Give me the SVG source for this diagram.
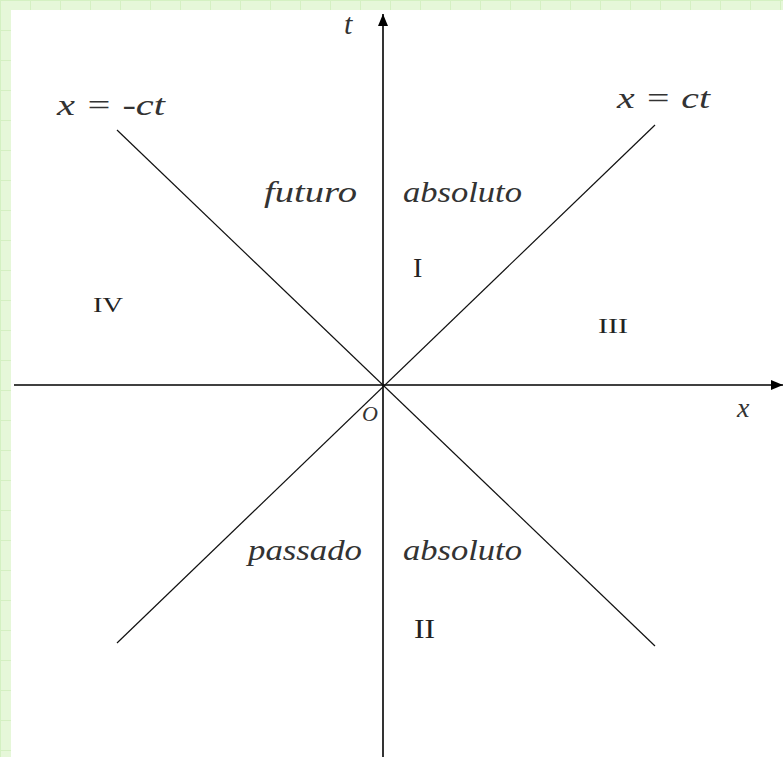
<svg xmlns="http://www.w3.org/2000/svg" width="783" height="757" viewBox="0 0 783 757">
<defs>
<pattern id="grid" width="30" height="30" patternUnits="userSpaceOnUse">
<rect width="30" height="30" fill="#e6f7d9"/>
<path d="M0 0.5H30M0.5 0V30" stroke="#d4f0c2" stroke-width="1"/>
</pattern>
<marker id="arr" viewBox="0 0 12 10" refX="12" refY="5" markerWidth="13" markerHeight="10" markerUnits="userSpaceOnUse" orient="auto">
<path d="M0 0L12 5L0 10Z" fill="#000"/>
</marker>
<style>
.it{font-family:"Liberation Serif",serif;font-style:italic;fill:#333}
.rm{font-family:"Liberation Serif",serif;fill:#222}
.ax{stroke:#000;stroke-width:1.6;fill:none}
.ln{stroke:#111;stroke-width:1.2;fill:none}
</style>
</defs>
<rect width="783" height="757" fill="url(#grid)"/>
<rect x="11" y="10" width="772" height="747" fill="#fff"/>
<g id="connectors">
<line class="ax" x1="383" y1="757" x2="383" y2="14" marker-end="url(#arr)"/>
<line class="ax" x1="14" y1="385" x2="783" y2="385" marker-end="url(#arr)"/>
<line class="ln" x1="117" y1="130" x2="655" y2="646"/>
<line class="ln" x1="655" y1="125" x2="117" y2="643"/>
</g>
<g id="labels">
<text class="it" x="344" y="34" font-size="30">t</text>
<text class="it" x="57" y="115" font-size="30" textLength="108" lengthAdjust="spacingAndGlyphs">x = -ct</text>
<text class="it" x="617" y="108" font-size="30" textLength="93" lengthAdjust="spacingAndGlyphs">x = ct</text>
<text class="it" x="264" y="202" font-size="30" textLength="93" lengthAdjust="spacingAndGlyphs">futuro</text>
<text class="it" x="403" y="202" font-size="30" textLength="119" lengthAdjust="spacingAndGlyphs">absoluto</text>
<text class="rm" x="413" y="277" font-size="28">I</text>
<text class="rm" x="93" y="312" font-size="21" textLength="30" lengthAdjust="spacingAndGlyphs">IV</text>
<text class="rm" x="598" y="333" font-size="21" textLength="30" lengthAdjust="spacingAndGlyphs">III</text>
<text class="it" x="737" y="417" font-size="28">x</text>
<text class="it" x="362" y="421" font-size="22">O</text>
<text class="it" x="248" y="560" font-size="30" textLength="114" lengthAdjust="spacingAndGlyphs">passado</text>
<text class="it" x="403" y="560" font-size="30" textLength="119" lengthAdjust="spacingAndGlyphs">absoluto</text>
<text class="rm" x="414" y="638" font-size="28" textLength="21" lengthAdjust="spacingAndGlyphs">II</text>
</g>
</svg>
